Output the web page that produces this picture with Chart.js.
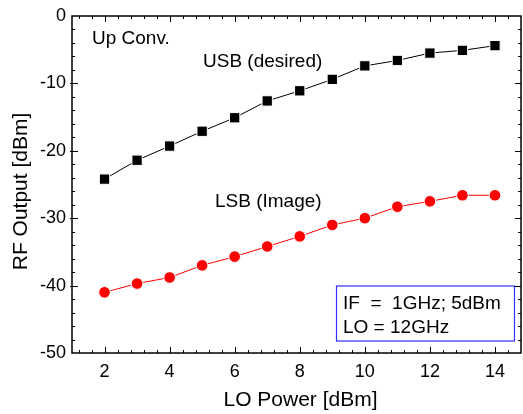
<!DOCTYPE html>
<html>
<head>
<meta charset="utf-8">
<script src="https://cdn.jsdelivr.net/npm/chart.js@4"></script>
<style>
  html, body { margin: 0; padding: 0; background: #fff; }
  #wrap { width: 523px; height: 414px; }
</style>
</head>
<body>
<div id="wrap"><canvas id="chartMixer" width="523" height="414"></canvas></div>
<script>
// ── Data ─────────────────────────────────
const loPower = [2, 3, 4, 5, 6, 7, 8, 9, 10, 11, 12, 13, 14];
const usbOutput = [-24.2, -21.4, -19.3, -17.1, -15.1, -12.6, -11.1, -9.4, -7.4, -6.6, -5.5, -5.1, -4.4];
const lsbOutput = [-41.0, -39.7, -38.8, -37.0, -35.7, -34.2, -32.7, -31.0, -30.0, -28.3, -27.5, -26.6, -26.6];
const xTicks = [2, 4, 6, 8, 10, 12, 14];
const yTicks = [0, -10, -20, -30, -40, -50];

const FONT = "'Liberation Sans', Arial, sans-serif";

// frame, inward ticks, annotations, axis titles
const framePlugin = {
    id: 'frame',
    afterDraw(chart) {
        const { ctx, chartArea: a, scales: { x, y } } = chart;
        ctx.save();
        ctx.strokeStyle = '#000';
        ctx.lineWidth = 1;
        ctx.beginPath();
        // x ticks (top & bottom), minor every 0.4
        for (let v = 1.2; v < 14.8; v += 0.4) {
            const px = Math.round(x.getPixelForValue(v)) + 0.5;
            const major = Math.abs(v / 2 - Math.round(v / 2)) < 0.01;
            const len = major ? 6 : 3;
            ctx.moveTo(px, a.bottom); ctx.lineTo(px, a.bottom - len);
            ctx.moveTo(px, a.top); ctx.lineTo(px, a.top + len);
        }
        // y ticks (left & right), minor every 2
        for (let v = -48; v < 0; v += 2) {
            const py = Math.round(y.getPixelForValue(v)) + 0.5;
            const major = v % 10 === 0;
            const len = major ? 6 : 3;
            ctx.moveTo(a.left - (major ? 2 : 0), py); ctx.lineTo(a.left + len, py);
            ctx.moveTo(a.right, py); ctx.lineTo(a.right - len, py);
        }
        ctx.stroke();
        ctx.lineWidth = 1.5;
        ctx.strokeRect(a.left, a.top, a.right - a.left, a.bottom - a.top);

        // annotations
        ctx.fillStyle = '#000';
        ctx.font = '19px ' + FONT;
        ctx.textBaseline = 'middle';
        ctx.textAlign = 'left';
        ctx.fillText('Up Conv.', a.left + 20, a.top + 23);
        ctx.fillText('USB (desired)', a.left + 131, a.top + 46);
        ctx.fillText('LSB (Image)', a.left + 143, a.top + 186);

        // info box
        ctx.strokeStyle = '#3030ff';
        ctx.lineWidth = 1.2;
        ctx.strokeRect(a.left + 264.5, a.top + 270, 178, 55);
        ctx.fillText('IF  =  1GHz; 5dBm', a.left + 271, a.top + 288);
        ctx.fillText('LO = 12GHz', a.left + 271, a.top + 312);

        // axis titles
        ctx.font = '21px ' + FONT;
        ctx.textAlign = 'center';
        ctx.fillText('LO Power [dBm]', (a.left + a.right) / 2 + 4, 400);
        ctx.translate(21, (a.top + a.bottom) / 2 + 7);
        ctx.rotate(-Math.PI / 2);
        ctx.fillText('RF Output [dBm]', 0, 0);
        ctx.restore();
    }
};

let chartMixer;

function initChart() {
    Chart.defaults.font.family = FONT;
    Chart.defaults.font.size = 18;
    Chart.defaults.color = '#000';

    const ctx = document.getElementById('chartMixer');
    chartMixer = new Chart(ctx, {
        type: 'line',
        data: {
            datasets: [
                {
                    label: 'USB (desired)',
                    data: loPower.map((p, i) => ({ x: p, y: usbOutput[i] })),
                    borderColor: '#000', borderWidth: 1,
                    pointStyle: 'rect', pointRadius: 7.3,
                    pointBackgroundColor: '#000', pointBorderColor: '#fff', pointBorderWidth: 1
                },
                {
                    label: 'LSB (Image)',
                    data: loPower.map((p, i) => ({ x: p, y: lsbOutput[i] })),
                    borderColor: '#ff0000', borderWidth: 1,
                    pointStyle: 'circle', pointRadius: 5.8,
                    pointBackgroundColor: '#ff0000', pointBorderColor: '#fff', pointBorderWidth: 1
                }
            ]
        },
        options: {
            responsive: false, animation: false, devicePixelRatio: 1,
            layout: { autoPadding: false, padding: { top: 16, right: 2, left: 0, bottom: 0 } },
            plugins: { legend: { display: false }, tooltip: { enabled: false } },
            scales: {
                x: {
                    type: 'linear', min: 1, max: 14.8,
                    afterBuildTicks: s => { s.ticks = xTicks.map(v => ({ value: v })); },
                    afterFit: s => { s.height = 61; s.paddingLeft = 0; s.paddingRight = 0; },
                    grid: { display: true, drawOnChartArea: false, drawTicks: true, tickLength: 8, color: 'transparent' },
                    border: { display: false },
                    ticks: { padding: 0, maxRotation: 0 }
                },
                y: {
                    type: 'linear', min: -50, max: 0,
                    afterBuildTicks: s => { s.ticks = yTicks.map(v => ({ value: v })); },
                    afterFit: s => { s.width = 72; s.paddingTop = 0; s.paddingBottom = 0; },
                    grid: { display: false, drawTicks: false }, border: { display: false },
                    ticks: { padding: 6 }
                }
            }
        },
        plugins: [framePlugin]
    });
}

initChart();
</script>
</body>
</html>
